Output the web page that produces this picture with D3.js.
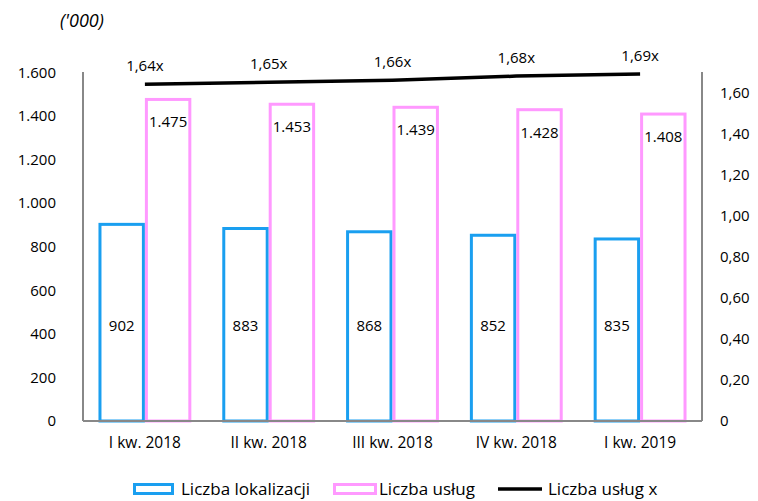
<!DOCTYPE html>
<html>
<head>
<meta charset="utf-8">
<script src="https://cdn.jsdelivr.net/npm/d3@7"></script>
<style>
  body { margin: 0; background: #fff; }
  svg text { font-family: "Open Sans", sans-serif; fill: #000; }
</style>
</head>
<body>
<div id="chart"></div>
<script>
const categories = ["I kw. 2018", "II kw. 2018", "III kw. 2018", "IV kw. 2018", "I kw. 2019"];
const lokalizacje = [902, 883, 868, 852, 835];
const uslugi = [1475, 1453, 1439, 1428, 1408];
const uslugiX = [1.64, 1.65, 1.66, 1.68, 1.69];
const leftTicks = [0, 200, 400, 600, 800, 1000, 1200, 1400, 1600];
const rightTicks = [0, 0.2, 0.4, 0.6, 0.8, 1.0, 1.2, 1.4, 1.6];

const width = 758, height = 501;
const margin = { top: 72, right: 56, bottom: 80, left: 83 };
const innerW = width - margin.left - margin.right;
const innerH = height - margin.top - margin.bottom;

const fmtInt = d => d3.format(",")(d).replace(/,/g, ".");
const fmtDec = d => d === 0 ? "0" : d3.format(".2f")(d).replace(".", ",");

const svg = d3.select("#chart").append("svg")
    .attr("width", width)
    .attr("height", height);

svg.append("text")
    .attr("x", 60).attr("y", 27)
    .style("font-size", "18px")
    .style("font-style", "italic")
    .text("('000)");

const g = svg.append("g")
    .attr("transform", `translate(${margin.left},${margin.top})`);

const x = d3.scaleBand()
    .domain(categories)
    .range([0, innerW])
    .paddingInner(0.25)
    .paddingOuter(0.125);

const x1 = d3.scaleBand()
    .domain(["lok", "usl"])
    .range([0, x.bandwidth()]);

// left axis: 200 per ~43.6px, top of plot sits a little above 1.600
const yL = d3.scaleLinear().domain([0, 1600]).range([innerH, innerH - 8 * 43.6]);
const yR = d3.scaleLinear().domain([0, 1.7]).range([innerH, 0]);

// bars
const groups = g.selectAll(".grp")
    .data(categories)
    .enter().append("g")
    .attr("transform", d => `translate(${x(d)},0)`);

groups.append("rect")
    .attr("x", x1("lok") + 1.5)
    .attr("y", (d, i) => yL(lokalizacje[i]))
    .attr("width", x1.bandwidth() - 3)
    .attr("height", (d, i) => innerH - yL(lokalizacje[i]))
    .attr("fill", "#fff")
    .attr("stroke", "#1a9ff0")
    .attr("stroke-width", 3);

groups.append("rect")
    .attr("x", x1("usl") + 1.5)
    .attr("y", (d, i) => yL(uslugi[i]))
    .attr("width", x1.bandwidth() - 3)
    .attr("height", (d, i) => innerH - yL(uslugi[i]))
    .attr("fill", "#fff")
    .attr("stroke", "#ff99ff")
    .attr("stroke-width", 3);

groups.append("text")
    .attr("x", x1("lok") + x1.bandwidth() / 2)
    .attr("y", 259)
    .attr("text-anchor", "middle")
    .style("font-size", "15px")
    .text((d, i) => fmtInt(lokalizacje[i]));

groups.append("text")
    .attr("x", x1("usl") + x1.bandwidth() / 2)
    .attr("y", (d, i) => yL(uslugi[i]) + 28)
    .attr("text-anchor", "middle")
    .style("font-size", "15px")
    .text((d, i) => fmtInt(uslugi[i]));

// axes
const axisL = g.append("g")
    .call(d3.axisLeft(yL).tickValues(leftTicks).tickFormat(fmtInt).tickSize(0).tickPadding(27));
axisL.select(".domain").remove();
axisL.selectAll("text").style("font-size", "15px").style("font-family", "'Open Sans', sans-serif");

const axisR = g.append("g")
    .attr("transform", `translate(${innerW},0)`)
    .call(d3.axisRight(yR).tickValues(rightTicks).tickFormat(fmtDec).tickSize(0).tickPadding(18));
axisR.select(".domain").remove();
axisR.selectAll("text").style("font-size", "15px").style("font-family", "'Open Sans', sans-serif");

const axisX = g.append("g")
    .attr("transform", `translate(0,${innerH})`)
    .call(d3.axisBottom(x).tickSize(0).tickPadding(16));
axisX.select(".domain").remove();
axisX.selectAll("text").style("font-size", "15.5px").style("font-family", "'Open Sans', sans-serif");

g.append("line")
    .attr("x1", 0).attr("x2", 0).attr("y1", 0).attr("y2", innerH)
    .attr("stroke", "#888").attr("stroke-width", 2);
g.append("line")
    .attr("x1", innerW).attr("x2", innerW).attr("y1", 0).attr("y2", innerH)
    .attr("stroke", "#888").attr("stroke-width", 2);
g.append("line")
    .attr("x1", 0).attr("x2", innerW).attr("y1", innerH).attr("y2", innerH)
    .attr("stroke", "#888").attr("stroke-width", 2);

// ratio line
const line = d3.line()
    .x((d, i) => x(categories[i]) + x.bandwidth() / 2)
    .y(d => yR(d));

g.append("path")
    .datum(uslugiX)
    .attr("d", line)
    .attr("fill", "none")
    .attr("stroke", "#000")
    .attr("stroke-width", 3.5);

g.selectAll(".xlab")
    .data(uslugiX)
    .enter().append("text")
    .attr("x", (d, i) => x(categories[i]) + x.bandwidth() / 2)
    .attr("y", d => yR(d) - 13)
    .attr("text-anchor", "middle")
    .style("font-size", "15px")
    .text(d => d3.format(".2f")(d).replace(".", ",") + "x");

// legend
const legend = svg.append("g").attr("transform", "translate(0,489)");
legend.append("rect").attr("x", 134.5).attr("y", -4.5).attr("width", 38).attr("height", 9)
    .attr("fill", "#fff").attr("stroke", "#1a9ff0").attr("stroke-width", 3);
legend.append("text").attr("x", 181).attr("y", 6).style("font-size", "17px").text("Liczba lokalizacji");
legend.append("rect").attr("x", 334.5).attr("y", -4.5).attr("width", 41).attr("height", 9)
    .attr("fill", "#fff").attr("stroke", "#ff99ff").attr("stroke-width", 3);
legend.append("text").attr("x", 379).attr("y", 6).style("font-size", "17px").text("Liczba usług");
legend.append("line").attr("x1", 498).attr("x2", 542).attr("y1", 0).attr("y2", 0)
    .attr("stroke", "#000").attr("stroke-width", 3.5);
legend.append("text").attr("x", 548).attr("y", 6).style("font-size", "17px").text("Liczba usług x");
</script>
</body>
</html>
